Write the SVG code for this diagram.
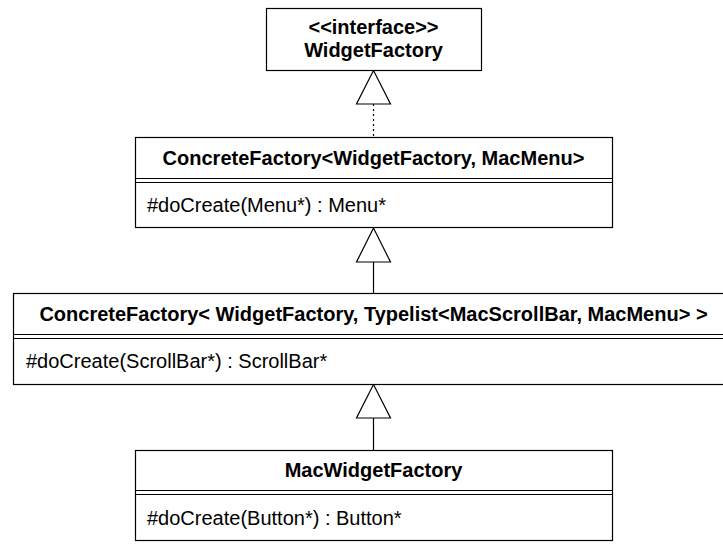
<svg xmlns="http://www.w3.org/2000/svg" width="723" height="544" viewBox="0 0 723 544">
<style>
.box{fill:#fff;stroke:#000;stroke-width:1.2}
.sep{stroke:#000;stroke-width:1.2}
.title{font-family:"Liberation Sans",Arial,sans-serif;font-size:20px;font-weight:bold;text-anchor:middle;fill:#000}
.op{font-family:"Liberation Sans",Arial,sans-serif;font-size:20px;fill:#000}
.tri{fill:#fff;stroke:#000;stroke-width:1.2}
.ln{stroke:#000;stroke-width:1.2;fill:none}
</style>
<g id="connectors">
<line class="ln" x1="373.5" y1="104" x2="373.5" y2="137" stroke-dasharray="2,3"/>
<polygon class="tri" points="373.5,70.5 356.5,104 390.5,104"/>
<line class="ln" x1="373.5" y1="262" x2="373.5" y2="293"/>
<polygon class="tri" points="373.5,228 356.5,262 390.5,262"/>
<line class="ln" x1="373.5" y1="418" x2="373.5" y2="450"/>
<polygon class="tri" points="373.5,384.5 356.5,418 390.5,418"/>
</g>
<g id="WidgetFactory">
<rect class="box" x="266.5" y="8.5" width="215" height="62"/>
<text class="title" x="373.5" y="34">&lt;&lt;interface&gt;&gt;</text>
<text class="title" x="373.5" y="57">WidgetFactory</text>
</g>
<g id="ConcreteFactoryMenu">
<rect class="box" x="135.5" y="137.5" width="477" height="90"/>
<line class="sep" x1="135.5" y1="178.5" x2="612.5" y2="178.5"/>
<line class="sep" x1="135.5" y1="182.5" x2="612.5" y2="182.5"/>
<text class="title" x="373.5" y="165">ConcreteFactory&lt;WidgetFactory, MacMenu&gt;</text>
<text class="op" x="147" y="212">#doCreate(Menu*) : Menu*</text>
</g>
<g id="ConcreteFactoryTypelist">
<rect class="box" x="13.5" y="293.5" width="721" height="91"/>
<line class="sep" x1="13.5" y1="334.5" x2="734.5" y2="334.5"/>
<line class="sep" x1="13.5" y1="338.5" x2="734.5" y2="338.5"/>
<text class="title" x="373.5" y="321">ConcreteFactory&lt; WidgetFactory, Typelist&lt;MacScrollBar, MacMenu&gt; &gt;</text>
<text class="op" x="26" y="368">#doCreate(ScrollBar*) : ScrollBar*</text>
</g>
<g id="MacWidgetFactory">
<rect class="box" x="135.5" y="450.5" width="477" height="90"/>
<line class="sep" x1="135.5" y1="490.5" x2="612.5" y2="490.5"/>
<line class="sep" x1="135.5" y1="494.5" x2="612.5" y2="494.5"/>
<text class="title" x="373.5" y="477">MacWidgetFactory</text>
<text class="op" x="147" y="525">#doCreate(Button*) : Button*</text>
</g>
</svg>
